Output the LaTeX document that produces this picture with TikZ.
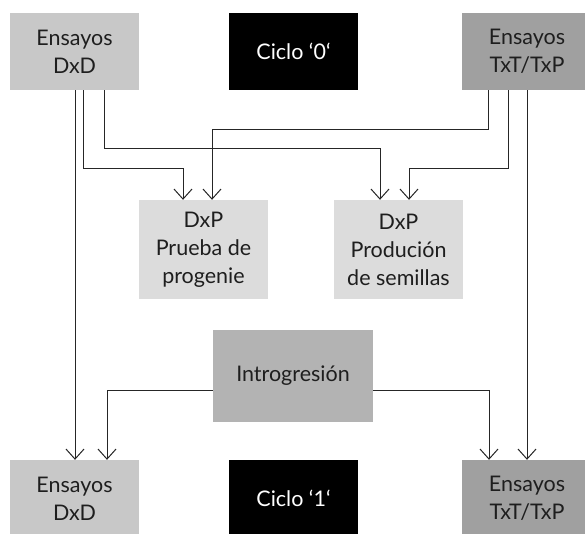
\documentclass[tikz,border=0pt]{standalone}
\usepackage{fontspec}
\setmainfont{Lato}
\usetikzlibrary{arrows.meta}
\definecolor{gA}{HTML}{C8C8C8}
\definecolor{gB}{HTML}{DCDCDC}
\definecolor{gC}{HTML}{B3B3B3}
\definecolor{gD}{HTML}{A0A0A0}
\definecolor{txt}{HTML}{1E1E1E}
\begin{document}
\begin{tikzpicture}[x=1pt,y=-1pt,
  box/.style={draw=none,inner sep=0pt,minimum width=129pt,minimum height=77pt,align=center,
    text=txt,font=\fontsize{21.5}{28}\selectfont},
  boxA/.style={box,fill=gA},
  boxB/.style={box,fill=gB,minimum height=99pt},
  boxC/.style={box,fill=gC,minimum width=160pt,minimum height=92pt},
  boxD/.style={box,fill=gD,minimum width=130pt},
  cyc/.style={box,fill=black,text=white},
  arr/.style={draw=black!85,line width=1pt,-{Straight Barb[length=10pt,width=18pt]}}]
\useasboundingbox (0,0) rectangle (585,533);
\clip (0,0) rectangle (585,533);
\node[boxA] (tl) at (74.5,51.5) {Ensayos\\DxD};
\node[cyc] (c0) at (293.5,51.5) {Ciclo ‘0‘};
\node[boxD] (tr) at (527,51.5) {Ensayos\\TxT/TxP};
\node[boxB] (m1) at (203.5,249.5) {DxP\\Prueba de\\progenie};
\node[boxB] (m2) at (398.5,249.5) {DxP\\Produción\\de semillas};
\node[boxC] (in) at (293,376) {Introgresión};
\node[boxA] (bl) at (74.5,498.5) {Ensayos\\DxD};
\node[cyc] (c1) at (293.5,498.5) {Ciclo ‘1‘};
\node[boxD] (br) at (527,498.5) {Ensayos\\TxT/TxP};
% from top-left
\draw[arr] (tl.south -| 75,0) -- (bl.north -| 75,0);
\draw[arr] (tl.south -| 83,0) -- (83,168) -| (m1.north -| 183,0);
\draw[arr] (tl.south -| 104,0) -- (104,148) -| (m2.north -| 380,0);
% from top-right
\draw[arr] (tr.south -| 488,0) -- (488,129) -| (m1.north -| 212,0);
\draw[arr] (tr.south -| 508,0) -- (508,168) -| (m2.north -| 409,0);
\draw[arr] (tr.south -| 527,0) -- (br.north -| 527,0);
% from introgresion
\draw[arr] (in.west |- 0,390) -| (bl.north -| 107,0);
\draw[arr] (in.east |- 0,390) -| (br.north -| 489,0);
\end{tikzpicture}
\end{document}
